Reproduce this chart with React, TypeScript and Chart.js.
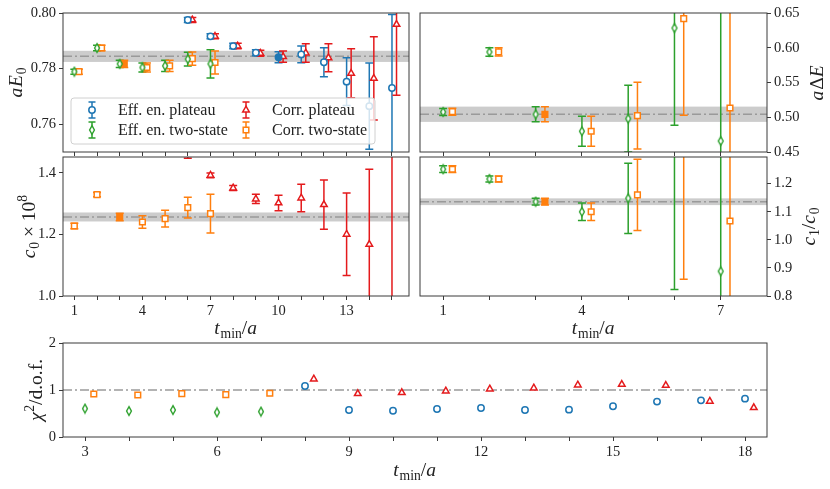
import React, { useEffect, useRef } from 'react';
import { Chart, registerables } from 'chart.js';

Chart.register(...registerables);

// ---------------- data ----------------
// aE0 panel
const tTwoState = [1, 2, 3, 4, 5, 6, 7];
const tPlateau = [6, 7, 8, 9, 10, 11, 12, 13, 14, 15];
const aE0EffTwoState = [0.7789, 0.7874, 0.7817, 0.7804, 0.781, 0.7834, 0.7817];
const aE0EffTwoStateErr = [0.0009, 0.001, 0.0013, 0.0016, 0.002, 0.0025, 0.0051];
const aE0CorrTwoState = [0.7789, 0.7874, 0.7817, 0.7804, 0.781, 0.7836, 0.7822];
const aE0CorrTwoStateErr = [0.0009, 0.001, 0.0013, 0.0016, 0.002, 0.0024, 0.0041];
const aE0EffPlateau = [0.7975, 0.7916, 0.7881, 0.7857, 0.7841, 0.7851, 0.7823, 0.7753, 0.7665, 0.773];
const aE0EffPlateauErr = [0.0009, 0.0009, 0.001, 0.0011, 0.002, 0.003, 0.0052, 0.0086, 0.0155, 0.0265];
const aE0CorrPlateau = [0.7975, 0.7916, 0.7881, 0.7855, 0.7843, 0.7856, 0.7839, 0.7783, 0.7765, 0.7959];
const aE0CorrPlateauErr = [0.0009, 0.0009, 0.001, 0.0011, 0.002, 0.0033, 0.005, 0.0088, 0.015, 0.0255];
const aE0Fit = 0.7844;
const aE0FitErr = 0.002;

// a Delta E panel
const dEEffTwoState = [0.5076, 0.5939, 0.5042, 0.4798, 0.498, 0.6284, 0.4658];
const dEEffTwoStateErr = [0.005, 0.006, 0.0108, 0.0216, 0.048, 0.14, 0.3];
const dECorrTwoState = [0.508, 0.594, 0.5042, 0.4798, 0.5024, 0.642, 0.5133];
const dECorrTwoStateErr = [0.005, 0.006, 0.0108, 0.0216, 0.048, 0.139, 0.3];
const dEFit = 0.5043;
const dEFitErr = 0.011;

// c0 x 10^8 panel
const c0CorrTwoState = [1.2276, 1.3297, 1.257, 1.2407, 1.2517, 1.2875, 1.268];
const c0CorrTwoStateErr = [0.009, 0.007, 0.012, 0.02, 0.027, 0.034, 0.063];
const c0CorrPlateau = [1.465, 1.3925, 1.3512, 1.3155, 1.3025, 1.3187, 1.2972, 1.2007, 1.168, 1.75];
const c0CorrPlateauErr = [0.017, 0.0076, 0.008, 0.015, 0.025, 0.045, 0.08, 0.134, 0.244, 0.8];
const c0Fit = 1.257;
const c0FitErr = 0.0146;

// c1/c0 panel
const ratioEffTwoState = [1.2514, 1.2167, 1.1357, 1.1, 1.148, 1.45, 0.888];
const ratioEffTwoStateErr = [0.012, 0.011, 0.012, 0.031, 0.125, 0.627, 0.9];
const ratioCorrTwoState = [1.2514, 1.2167, 1.1357, 1.1, 1.16, 1.48, 1.067];
const ratioCorrTwoStateErr = [0.012, 0.011, 0.012, 0.031, 0.127, 0.62, 0.9];
const ratioFit = 1.1357;
const ratioFitErr = 0.012;

// chi^2 / d.o.f. panel
const tChiTwoState = [3, 4, 5, 6, 7];
const chiEffTwoState = [0.604, 0.553, 0.574, 0.525, 0.54];
const chiCorrTwoState = [0.915, 0.894, 0.923, 0.9, 0.93];
const tChiPlateau = [8, 9, 10, 11, 12, 13, 14, 15, 16, 17, 18];
const chiEffPlateau = [1.085, 0.574, 0.56, 0.596, 0.617, 0.574, 0.582, 0.653, 0.753, 0.78, 0.816];
const chiCorrPlateau = [1.234, 0.923, 0.944, 0.979, 1.021, 1.043, 1.106, 1.121, 1.1, 0.76, 0.625];
const chiRef = 1;

// chosen fits (filled markers)
const chosenEffPlateau = 10;
const chosenCorrTwoState = 3;

// ticks
const ticksTLeft = [1, 2, 3, 4, 5, 6, 7, 8, 9, 10, 11, 12, 13, 14, 15];
const labelsTLeft = [1, 4, 7, 10, 13];
const ticksTRight = [1, 2, 3, 4, 5, 6, 7];
const labelsTRight = [1, 4, 7];
const ticksTChi = [3, 4, 5, 6, 7, 8, 9, 10, 11, 12, 13, 14, 15, 16, 17, 18];
const labelsTChi = [3, 6, 9, 12, 15, 18];
const ticksAE0 = [0.76, 0.78, 0.8];
const ticksDE = [0.45, 0.5, 0.55, 0.6, 0.65];
const ticksC0 = [1.0, 1.2, 1.4];
const ticksRatio = [0.8, 0.9, 1.0, 1.1, 1.2];
const ticksChi = [0, 1, 2];

// ---------------- style ----------------
const BLUE = '#1f77b4';
const GREEN = '#2ca02c';
const RED = '#e41a1c';
const ORANGE = '#ff7f0e';
const SERIF = '"Liberation Serif", "DejaVu Serif", serif';
const INK = '#222222';
const FRAME = '#3a3a3a';
const W = 830;
const H = 489;
const Y_AXIS_W = 44;
const X_AXIS_H = 28;
const TITLE_SIZE = 19.5;

type Seg = { t: string; it?: boolean; sub?: boolean; sup?: boolean };

function drawRich(ctx: CanvasRenderingContext2D, segs: Seg[], cx: number, cy: number, rot: number, size: number) {
  ctx.save();
  ctx.translate(cx, cy);
  ctx.rotate(rot);
  const fontFor = (s: Seg) => `${s.it ? 'italic ' : ''}${s.sub || s.sup ? size * 0.7 : size}px ${SERIF}`;
  let total = 0;
  const widths = segs.map((s) => {
    ctx.font = fontFor(s);
    const w = ctx.measureText(s.t).width + (s.it ? size * 0.04 : 0);
    total += w;
    return w;
  });
  let x = -total / 2;
  ctx.textAlign = 'left';
  ctx.textBaseline = 'alphabetic';
  ctx.fillStyle = INK;
  const base = size * 0.3;
  segs.forEach((s, i) => {
    ctx.font = fontFor(s);
    const dy = s.sub ? size * 0.22 : s.sup ? -size * 0.42 : 0;
    ctx.fillText(s.t, x, base + dy);
    x += widths[i];
  });
  ctx.restore();
}

const diamondCache: Record<string, HTMLCanvasElement> = {};
function diamondImg(color: string) {
  if (diamondCache[color]) return diamondCache[color];
  const c = document.createElement('canvas');
  c.width = 10;
  c.height = 12;
  const g = c.getContext('2d')!;
  g.beginPath();
  g.moveTo(5, 1.6);
  g.lineTo(7.4, 6);
  g.lineTo(5, 10.4);
  g.lineTo(2.6, 6);
  g.closePath();
  g.fillStyle = '#ffffff';
  g.fill();
  g.strokeStyle = color;
  g.lineWidth = 1.4;
  g.stroke();
  diamondCache[color] = c;
  return c;
}

function drawMarker(ctx: CanvasRenderingContext2D, kind: string, x: number, y: number, color: string) {
  ctx.save();
  ctx.strokeStyle = color;
  ctx.fillStyle = '#ffffff';
  ctx.lineWidth = 1.5;
  if (kind === 'diamond') {
    const img = diamondImg(color);
    ctx.drawImage(img, x - img.width / 2, y - img.height / 2);
  } else {
    ctx.beginPath();
    if (kind === 'circle') ctx.arc(x, y, 3.2, 0, Math.PI * 2);
    else if (kind === 'rect') ctx.rect(x - 2.8, y - 2.8, 5.6, 5.6);
    else {
      const r = 3.8;
      ctx.moveTo(x, y - r);
      ctx.lineTo(x + r * 0.866, y + r * 0.5);
      ctx.lineTo(x - r * 0.866, y + r * 0.5);
      ctx.closePath();
    }
    ctx.fill();
    ctx.stroke();
  }
  ctx.restore();
}

function series(label: string, ts: number[], ys: number[], errs: number[] | null, color: string, kind: string, dx: number, chosen: number | null) {
  return {
    type: 'scatter',
    label,
    data: ts.map((t, i) => ({ x: t + dx, y: ys[i] })),
    errors: errs,
    markerKind: kind,
    pointStyle: kind === 'diamond' ? diamondImg(color) : kind,
    pointRadius: kind === 'rect' ? 4 : kind === 'triangle' ? 3.8 : 3.2,
    pointBorderColor: color,
    pointBackgroundColor: ts.map((t) => (t === chosen ? color : '#ffffff')),
    pointBorderWidth: 1.5,
    showLine: false,
  };
}

type Rect = { l: number; t: number; r: number; b: number };
type TitleSpec = { segs: Seg[]; where: 'left' | 'right' | 'bottom'; off: number };
type PanelSpec = {
  rect: Rect;
  xr: [number, number];
  yr: [number, number];
  xTicks: number[];
  xLabels: number[];
  yTicks: number[];
  yDec: number;
  yPos: 'left' | 'right';
  datasets: any[];
  band?: [number, number];
  refLine?: number;
  titles: TitleSpec[];
  legend?: string[][];
};

function makeDecor(spec: PanelSpec) {
  return {
    id: 'decor',
    beforeDatasetsDraw(chart: any) {
      const { ctx, chartArea: a, scales } = chart;
      const x = scales.x;
      const y = scales.y;
      ctx.save();
      ctx.beginPath();
      ctx.rect(a.left, a.top, a.right - a.left, a.bottom - a.top);
      ctx.clip();
      const lineAt = (v: number) => {
        const py = y.getPixelForValue(v);
        ctx.save();
        ctx.strokeStyle = '#9a9a9a';
        ctx.lineWidth = 1.5;
        ctx.setLineDash([9, 3, 2, 3]);
        ctx.beginPath();
        ctx.moveTo(a.left, py);
        ctx.lineTo(a.right, py);
        ctx.stroke();
        ctx.restore();
      };
      if (spec.band) {
        const [c, e] = spec.band;
        const y1 = y.getPixelForValue(c + e);
        const y2 = y.getPixelForValue(c - e);
        ctx.fillStyle = 'rgba(128,128,128,0.4)';
        ctx.fillRect(a.left, y1, a.right - a.left, y2 - y1);
        lineAt(c);
      }
      if (spec.refLine != null) lineAt(spec.refLine);
      chart.data.datasets.forEach((ds: any) => {
        if (!ds.errors) return;
        ctx.strokeStyle = ds.pointBorderColor;
        ctx.lineWidth = 1.5;
        ctx.setLineDash([]);
        ds.data.forEach((pt: any, i: number) => {
          const e = ds.errors[i];
          const px = x.getPixelForValue(pt.x);
          const y1 = y.getPixelForValue(pt.y - e);
          const y2 = y.getPixelForValue(pt.y + e);
          ctx.beginPath();
          ctx.moveTo(px, y1);
          ctx.lineTo(px, y2);
          ctx.moveTo(px - 4, y1);
          ctx.lineTo(px + 4, y1);
          ctx.moveTo(px - 4, y2);
          ctx.lineTo(px + 4, y2);
          ctx.stroke();
        });
      });
      ctx.restore();
    },
    afterDraw(chart: any) {
      const { ctx, chartArea: a } = chart;
      ctx.save();
      ctx.strokeStyle = FRAME;
      ctx.lineWidth = 1;
      ctx.strokeRect(a.left, a.top, a.right - a.left, a.bottom - a.top);
      ctx.restore();
      const midY = (a.top + a.bottom) / 2;
      const midX = (a.left + a.right) / 2;
      spec.titles.forEach((t) => {
        if (t.where === 'left') drawRich(ctx, t.segs, a.left - t.off, midY, -Math.PI / 2, TITLE_SIZE);
        else if (t.where === 'right') drawRich(ctx, t.segs, a.right + t.off, midY, -Math.PI / 2, TITLE_SIZE);
        else drawRich(ctx, t.segs, midX, a.bottom + t.off, 0, TITLE_SIZE);
      });
      if (spec.legend) {
        const bx = a.left + 8;
        const by = a.bottom - 54;
        const bw = 304;
        const bh = 46;
        ctx.save();
        ctx.beginPath();
        ctx.roundRect(bx, by, bw, bh, 3);
        ctx.fillStyle = 'rgba(255,255,255,0.8)';
        ctx.fill();
        ctx.strokeStyle = '#d0d0d0';
        ctx.lineWidth = 1;
        ctx.stroke();
        const colMarker = [a.left + 29, a.left + 183];
        const colText = [a.left + 55, a.left + 209];
        const rowY = [a.bottom - 42, a.bottom - 22];
        spec.legend.forEach((col, ci) => {
          col.forEach((label, ri) => {
            const ds = chart.data.datasets.find((d: any) => d.label === label);
            if (!ds) return;
            const mx = colMarker[ci];
            const my = rowY[ri];
            ctx.strokeStyle = ds.pointBorderColor;
            ctx.lineWidth = 1.5;
            ctx.beginPath();
            ctx.moveTo(mx, my - 8);
            ctx.lineTo(mx, my + 8);
            ctx.moveTo(mx - 3.5, my - 8);
            ctx.lineTo(mx + 3.5, my - 8);
            ctx.moveTo(mx - 3.5, my + 8);
            ctx.lineTo(mx + 3.5, my + 8);
            ctx.stroke();
            drawMarker(ctx, ds.markerKind, mx, my, ds.pointBorderColor);
            ctx.fillStyle = INK;
            ctx.font = `16px ${SERIF}`;
            ctx.textAlign = 'left';
            ctx.textBaseline = 'middle';
            ctx.fillText(label, colText[ci], my + 1);
          });
        });
        ctx.restore();
      }
    },
  };
}

function makeConfig(spec: PanelSpec): any {
  const font = { family: SERIF, size: 14.5 };
  const padLeft = spec.yPos === 'left' ? spec.rect.l - Y_AXIS_W : spec.rect.l;
  const padRight = spec.yPos === 'right' ? W - spec.rect.r - Y_AXIS_W : W - spec.rect.r;
  return {
    type: 'scatter',
    data: { datasets: spec.datasets },
    plugins: [makeDecor(spec)],
    options: {
      animation: false,
      responsive: false,
      devicePixelRatio: 1,
      events: [],
      layout: { padding: { left: padLeft, top: spec.rect.t, right: padRight, bottom: H - spec.rect.b - X_AXIS_H } },
      plugins: { legend: { display: false }, tooltip: { enabled: false }, title: { display: false } },
      scales: {
        x: {
          type: 'linear',
          position: 'bottom',
          min: spec.xr[0],
          max: spec.xr[1],
          bounds: 'data',
          afterBuildTicks: (ax: any) => {
            ax.ticks = spec.xTicks.map((v) => ({ value: v }));
          },
          afterFit: (ax: any) => {
            ax.height = X_AXIS_H;
          },
          ticks: {
            autoSkip: false,
            maxRotation: 0,
            padding: 2,
            font,
            color: INK,
            callback: (v: number) => (spec.xLabels.includes(v) ? String(v) : ''),
          },
          grid: { drawOnChartArea: false, drawTicks: true, tickLength: 4, color: FRAME, tickWidth: 1 },
          border: { display: false },
        },
        y: {
          type: 'linear',
          position: spec.yPos,
          min: spec.yr[0],
          max: spec.yr[1],
          bounds: 'data',
          afterBuildTicks: (ax: any) => {
            ax.ticks = spec.yTicks.map((v) => ({ value: v }));
          },
          afterFit: (ax: any) => {
            ax.width = Y_AXIS_W;
          },
          ticks: {
            autoSkip: false,
            padding: 3,
            font,
            color: INK,
            callback: (v: number) => Number(v).toFixed(spec.yDec),
          },
          grid: { drawOnChartArea: false, drawTicks: true, tickLength: 4, color: FRAME, tickWidth: 1 },
          border: { display: false },
        },
      },
    },
  };
}

const tminTitle: Seg[] = [{ t: 't', it: true }, { t: 'min', sub: true }, { t: '/' }, { t: 'a', it: true }];

function buildSpecs(): PanelSpec[] {
  const A: PanelSpec = {
    rect: { l: 63, t: 13, r: 409, b: 152 },
    xr: [0.5, 15.75],
    yr: [0.75, 0.8],
    xTicks: ticksTLeft,
    xLabels: [],
    yTicks: ticksAE0,
    yDec: 2,
    yPos: 'left',
    band: [aE0Fit, aE0FitErr],
    datasets: [
      series('Eff. en. two-state', tTwoState, aE0EffTwoState, aE0EffTwoStateErr, GREEN, 'diamond', 0, null),
      series('Corr. two-state', tTwoState, aE0CorrTwoState, aE0CorrTwoStateErr, ORANGE, 'rect', 0.2, chosenCorrTwoState),
      series('Eff. en. plateau', tPlateau, aE0EffPlateau, aE0EffPlateauErr, BLUE, 'circle', 0, chosenEffPlateau),
      series('Corr. plateau', tPlateau, aE0CorrPlateau, aE0CorrPlateauErr, RED, 'triangle', 0.2, null),
    ],
    titles: [{ segs: [{ t: 'a', it: true }, { t: 'E', it: true }, { t: '0', sub: true }], where: 'left', off: 47 }],
    legend: [
      ['Eff. en. plateau', 'Eff. en. two-state'],
      ['Corr. plateau', 'Corr. two-state'],
    ],
  };
  const B: PanelSpec = {
    rect: { l: 420, t: 13, r: 767, b: 152 },
    xr: [0.5, 8.0],
    yr: [0.45, 0.65],
    xTicks: ticksTRight,
    xLabels: [],
    yTicks: ticksDE,
    yDec: 2,
    yPos: 'right',
    band: [dEFit, dEFitErr],
    datasets: [
      series('Eff. en. two-state', tTwoState, dEEffTwoState, dEEffTwoStateErr, GREEN, 'diamond', 0, null),
      series('Corr. two-state', tTwoState, dECorrTwoState, dECorrTwoStateErr, ORANGE, 'rect', 0.2, chosenCorrTwoState),
    ],
    titles: [{ segs: [{ t: 'a', it: true }, { t: 'Δ' }, { t: 'E', it: true }], where: 'right', off: 50 }],
  };
  const C: PanelSpec = {
    rect: { l: 63, t: 157, r: 409, b: 296 },
    xr: [0.5, 15.75],
    yr: [1.0, 1.452],
    xTicks: ticksTLeft,
    xLabels: labelsTLeft,
    yTicks: ticksC0,
    yDec: 1,
    yPos: 'left',
    band: [c0Fit, c0FitErr],
    datasets: [
      series('Corr. two-state', tTwoState, c0CorrTwoState, c0CorrTwoStateErr, ORANGE, 'rect', 0, chosenCorrTwoState),
      series('Corr. plateau', tPlateau, c0CorrPlateau, c0CorrPlateauErr, RED, 'triangle', 0, null),
    ],
    titles: [
      { segs: [{ t: 'c', it: true }, { t: '0', sub: true }, { t: ' × 10' }, { t: '8', sup: true }], where: 'left', off: 34 },
      { segs: tminTitle, where: 'bottom', off: 32 },
    ],
  };
  const D: PanelSpec = {
    rect: { l: 420, t: 157, r: 767, b: 296 },
    xr: [0.5, 8.0],
    yr: [0.8, 1.295],
    xTicks: ticksTRight,
    xLabels: labelsTRight,
    yTicks: ticksRatio,
    yDec: 1,
    yPos: 'right',
    band: [ratioFit, ratioFitErr],
    datasets: [
      series('Eff. en. two-state', tTwoState, ratioEffTwoState, ratioEffTwoStateErr, GREEN, 'diamond', 0, null),
      series('Corr. two-state', tTwoState, ratioCorrTwoState, ratioCorrTwoStateErr, ORANGE, 'rect', 0.2, chosenCorrTwoState),
    ],
    titles: [
      { segs: [{ t: 'c', it: true }, { t: '1', sub: true }, { t: '/' }, { t: 'c', it: true }, { t: '0', sub: true }], where: 'right', off: 42 },
      { segs: tminTitle, where: 'bottom', off: 32 },
    ],
  };
  const E: PanelSpec = {
    rect: { l: 63, t: 343, r: 767, b: 437 },
    xr: [2.5, 18.5],
    yr: [0, 2],
    xTicks: ticksTChi,
    xLabels: labelsTChi,
    yTicks: ticksChi,
    yDec: 0,
    yPos: 'left',
    refLine: chiRef,
    datasets: [
      series('Eff. en. two-state', tChiTwoState, chiEffTwoState, null, GREEN, 'diamond', 0, null),
      series('Corr. two-state', tChiTwoState, chiCorrTwoState, null, ORANGE, 'rect', 0.2, null),
      series('Eff. en. plateau', tChiPlateau, chiEffPlateau, null, BLUE, 'circle', 0, null),
      series('Corr. plateau', tChiPlateau, chiCorrPlateau, null, RED, 'triangle', 0.2, null),
    ],
    titles: [
      { segs: [{ t: 'χ', it: true }, { t: '2', sup: true }, { t: '/d.o.f.' }], where: 'left', off: 27 },
      { segs: tminTitle, where: 'bottom', off: 33 },
    ],
  };
  return [A, B, C, D, E];
}

function Panel({ index }: { index: number }) {
  const ref = useRef<HTMLCanvasElement>(null);
  useEffect(() => {
    const spec = buildSpecs()[index];
    const chart = new Chart(ref.current as HTMLCanvasElement, makeConfig(spec));
    return () => chart.destroy();
  }, [index]);
  return (
    <canvas
      ref={ref}
      width={W}
      height={H}
      style={{ position: 'absolute', left: 0, top: 0, width: W, height: H }}
    />
  );
}

export default function App() {
  return (
    <div style={{ position: 'fixed', left: 0, top: 0, width: W, height: H, background: '#ffffff' }}>
      {[0, 1, 2, 3, 4].map((i) => (
        <Panel key={i} index={i} />
      ))}
    </div>
  );
}
